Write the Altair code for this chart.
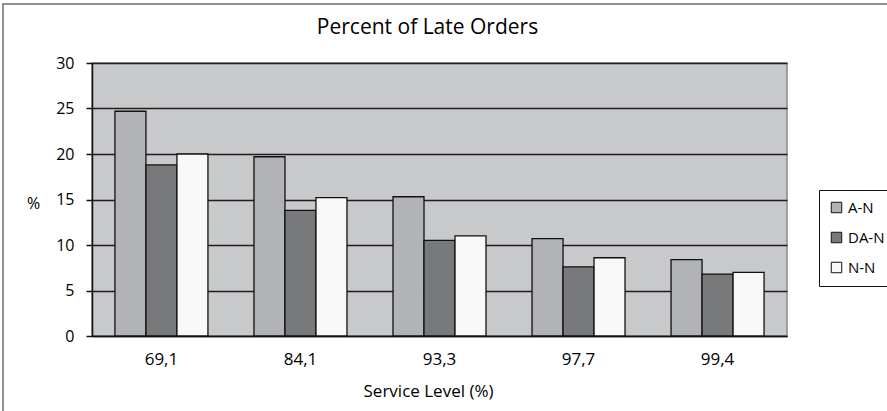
import altair as alt
import pandas as pd

# Service levels (category labels, decimal comma as printed)
levels = ["69,1", "84,1", "93,3", "97,7", "99,4"]
series_names = ["A-N", "DA-N", "N-N"]

# Percent of late orders per policy
a_n = [24.7, 19.7, 15.3, 10.7, 8.4]
da_n = [18.8, 13.8, 10.5, 7.6, 6.8]
n_n = [20.0, 15.2, 11.0, 8.6, 7.0]

series_colors = ["#b2b3b6", "#78797b", "#f8f8f8"]
y_ticks = [0, 5, 10, 15, 20, 25, 30]

rows = []
for name, vals in zip(series_names, [a_n, da_n, n_n]):
    for lvl, v in zip(levels, vals):
        rows.append({"level": lvl, "series": name, "pct": v})
df = pd.DataFrame(rows)

FONT = "Open Sans"

# outer chart frame (decorative border around the whole figure)
frame = alt.Chart(pd.DataFrame({"k": [0]})).mark_rect(
    fill=None, stroke="#6e6e6e", strokeWidth=1.5
).encode(
    x=alt.value(-89), x2=alt.value(820),
    y=alt.value(-59), y2=alt.value(400),
)

bars = alt.Chart(df).mark_bar(stroke="#111111", strokeWidth=1.3).encode(
    x=alt.X(
        "level:N", sort=levels,
        scale=alt.Scale(paddingInner=0.331, paddingOuter=0.165),
        axis=alt.Axis(
            title="Service Level (%)", labelAngle=0, ticks=False,
            labelFontSize=17, labelPadding=15, titleFontSize=17,
            titleFontWeight="normal", titleX=336, titleY=55,
            titleAlign="center", titleBaseline="middle",
            domainColor="#111111", domainWidth=1.5,
        ),
    ),
    xOffset=alt.XOffset("series:N", sort=series_names,
                        scale=alt.Scale(paddingInner=0, paddingOuter=0)),
    y=alt.Y(
        "pct:Q",
        scale=alt.Scale(domain=[0, 30], nice=False),
        axis=alt.Axis(
            values=y_ticks, title="%", titleAngle=0, titleX=-59, titleY=140,
            titleAlign="center", titleBaseline="middle", titleFontSize=16,
            titleFontWeight="normal", labelFontSize=16, labelPadding=12,
            tickSize=6, tickColor="#111111", tickWidth=1.5,
            domainColor="#111111", domainWidth=1.5,
            grid=True, gridColor="#1e1e1e", gridWidth=1.5,
        ),
    ),
    color=alt.Color(
        "series:N", sort=series_names,
        scale=alt.Scale(domain=series_names, range=series_colors),
        legend=alt.Legend(
            title=None, orient="none", legendX=727, legendY=127,
            symbolType="square", symbolSize=110, symbolStrokeColor="#111111",
            symbolStrokeWidth=1, labelFontSize=15, labelOffset=4,
            rowPadding=14, padding=10, strokeColor="#111111",
            fillColor="white",
        ),
    ),
)

# the frame sits above the plot, so the title offset is measured from it
chart = alt.layer(bars, frame).properties(
    width=695, height=273,
    title=alt.TitleParams("Percent of Late Orders", fontSize=21,
                          fontWeight="normal", font=FONT, color="black",
                          anchor="middle", frame="group", dx=-12,
                          baseline="alphabetic", offset=-52),
    autosize=alt.AutoSizeParams(type="none"),
    padding={"left": 92, "top": 63, "right": 100, "bottom": 75},
).configure(
    font=FONT,
).configure_view(
    fill="#c8c9cb", stroke="#8a8a8a", strokeWidth=1.5,
).configure_axis(
    labelColor="black", titleColor="black", labelFont=FONT, titleFont=FONT,
).configure_legend(
    labelColor="black", labelFont=FONT,
)

chart.save("out.html", embed_options={"renderer": "svg", "actions": False})
